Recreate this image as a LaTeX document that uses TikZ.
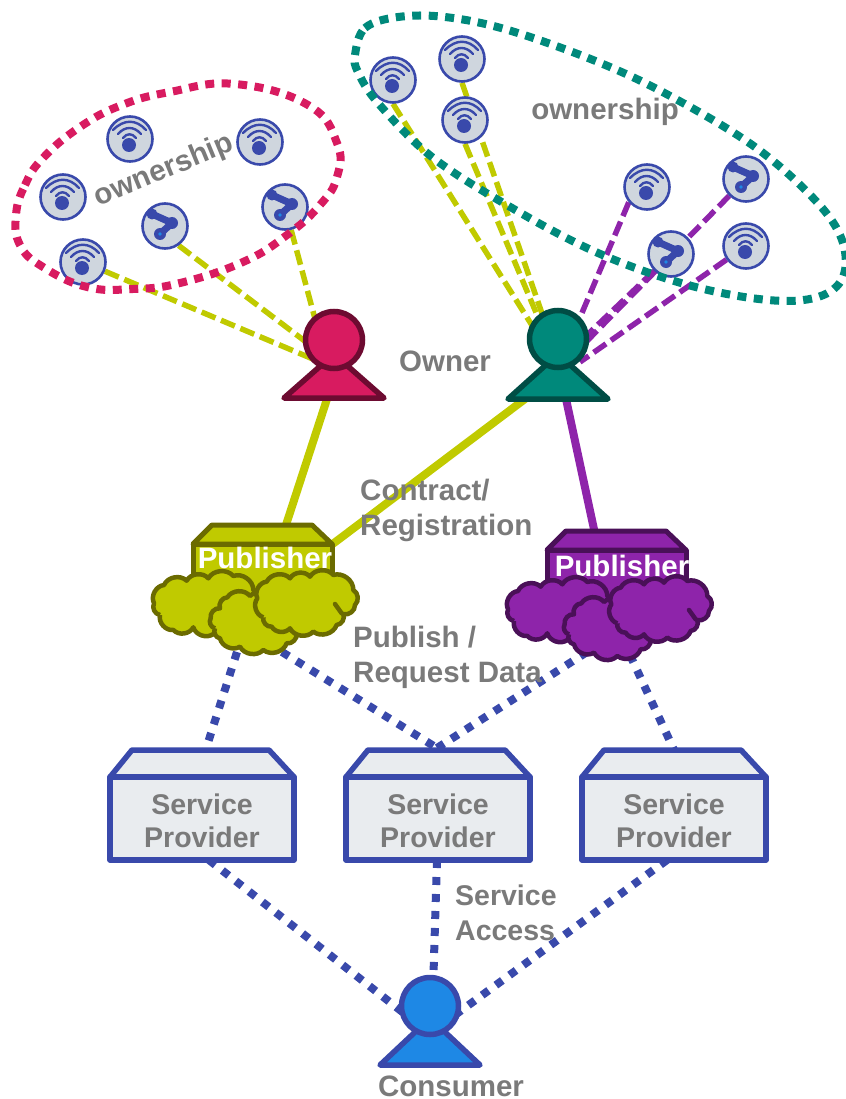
\documentclass[tikz,border=0pt]{standalone}
\usepackage{fontspec}
\setmainfont{Liberation Sans}
\definecolor{inkblue}{HTML}{3949AB}
\definecolor{devfill}{HTML}{CFD6DE}
\definecolor{boxfill}{HTML}{E9ECEF}
\definecolor{cyandot}{HTML}{1E88E5}
\definecolor{pinkc}{HTML}{D81B60}
\definecolor{pinkd}{HTML}{6D0B31}
\definecolor{tealc}{HTML}{00897B}
\definecolor{teald}{HTML}{004D45}
\definecolor{olivec}{HTML}{C0CA00}
\definecolor{olived}{HTML}{6B6B00}
\definecolor{purpc}{HTML}{8E24AA}
\definecolor{purpd}{HTML}{4A1058}
\definecolor{lblgray}{HTML}{7A7A7A}
\tikzset{
  devnode/.style={circle,draw=inkblue,fill=devfill,line width=2.6pt,minimum size=45pt,inner sep=0pt},
  lbl/.style={font=\fontsize{29.5}{35}\selectfont\bfseries,text=lblgray,inner sep=0pt,align=left},
  smalllbl/.style={font=\fontsize{28.5}{34}\selectfont\bfseries,text=lblgray,inner sep=0pt,align=left},
  publbl/.style={font=\fontsize{29.5}{35}\selectfont\bfseries,text=white,inner sep=0pt},
  splbl/.style={font=\fontsize{28.5}{34.5}\selectfont\bfseries,text=lblgray,align=center,inner sep=0pt},
  spbox/.style={draw=inkblue,fill=boxfill,line width=5.5pt,line join=round,minimum width=184pt,minimum height=83pt,inner sep=0pt,outer sep=0pt},
  sproof/.style={draw=inkblue,fill=boxfill,line width=5.5pt,line join=round},
  head/.style={circle,line width=5.5pt,minimum size=57pt,inner sep=0pt},
  dashline/.style={line width=5.5pt,dash pattern=on 15pt off 6pt},
  ownring/.style={line width=8pt,dash pattern=on 9pt off 7.5pt},
  solidline/.style={line width=8pt},
  dotline/.style={draw=inkblue,line width=8pt,dash pattern=on 8pt off 9pt},
  cloudbit/.style={line width=4.5pt,line join=round,every to/.style={bend left=55}},
  pubpart/.style={line width=5pt,line join=round},
}
\pgfdeclarelayer{behind}
\pgfsetlayers{behind,main}
% device glyphs
\newcommand{\wifidev}[3]{%
  \node[devnode] (#1) at (#2,#3) {};
  \begin{scope}[shift={(#2,#3)},draw=inkblue,line width=2.4pt,line cap=round]
    \fill[inkblue] (-1,6) circle (7);
    \draw (-17,-9) .. controls (-6,-20) and (6,-20) .. (16,-9);
    \draw (-12,-5) .. controls (-5,-13) and (4,-13) .. (11,-5);
    \draw (-7,-1) .. controls (-3,-6) and (2,-6) .. (6,-1);
  \end{scope}}
\newcommand{\linkdev}[3]{%
  \node[devnode] (#1) at (#2,#3) {};
  \begin{scope}[shift={(#2,#3)}]
    \draw[inkblue,line width=7pt,line cap=round,line join=round] (-13,-12) -- (7,-3) -- (-5,8);
    \fill[inkblue] (-13,-12) circle (5.5) (7,-3) circle (6) (-5,8) circle (6);
    \fill[cyandot] (-5,8) circle (1.8);
  \end{scope}}
% person: name, head x, head y, apex y, base half width, base y, fill, line
\newcommand{\person}[8]{%
  \draw[fill=#7,draw=#8,line width=5.5pt,line join=round] (#2-#5,#6) -- (#2,#4) -- (#2+#5,#6) -- cycle;
  \node[head,fill=#7,draw=#8] (#1) at (#2,#3) {};}
% publisher: name, dx, dy, fill, line, label x, label y
\newcommand{\publisher}[7]{%
  \begin{scope}[shift={(#2,#3)}]
    \draw[pubpart,fill=#4,draw=#5] (193,544) rectangle (332,600);
    \draw[pubpart,fill=#4,draw=#5] (193,544) -- (212,525) -- (312,525) -- (332,544) -- cycle;
  \end{scope}
  \node[publbl] (#1) at (#6,#7) {Publisher};
  \begin{scope}[shift={(#2,#3)}]
    \begin{scope}[shift={(140,510)},x=0.3333pt,y=-0.3333pt]
      \draw[cloudbit,fill=#4,draw=#5] (60,315) to (42,280) to (72,225) to (140,212) to (205,205) to (280,198) to (340,240) to (345,310) to (220,372) to (160,352) to (100,360) to (60,315);
      \draw[cloudbit,fill=#4,draw=#5] (225,355) to (212,325) to (240,295) to (262,262) to (330,258) to (400,270) to (470,370) to (440,400) to (370,420) to (300,410) to (240,385) to (225,355);
      \draw[cloudbit,fill=#4,draw=#5] (370,322) to (352,265) to (380,215) to (450,205) to (510,200) to (580,195) to (640,240) to (645,285) to (610,312) to (590,345) to (520,365) to (450,355) to (395,350) to (370,322);
      \draw[line width=4.5pt,draw=#5,line cap=round] (585,282) -- (605,310);
    \end{scope}
  \end{scope}}
% service provider: name, left x
\newcommand{\provider}[2]{%
  \draw[sproof] (#2,777) -- (#2+22,750) -- (#2+159,750) -- (#2+184,777) -- cycle;
  \node[spbox,anchor=north west] (#1) at (#2,777) {};
  \node[splbl,yshift=-2.5pt] (#1text) at (#1.center) {Service\\[-1pt]Provider};}
\begin{document}
\begin{tikzpicture}[x=1pt,y=-1pt]
\useasboundingbox (0,0) rectangle (845,1099);
% free connector ends
\coordinate (tA1) at (320,362);
\coordinate (tA2) at (310,345);
\coordinate (tA3) at (318,330);
\coordinate (tB1) at (533,327);
\coordinate (tB2) at (540,322);
\coordinate (tB3) at (546,325);
\coordinate (tB4) at (576,327);
\coordinate (tB5) at (585,343);
\coordinate (tB6) at (585,337);
\coordinate (tB7) at (580,362);
\coordinate (armA) at (327,399);
\coordinate (armB) at (525,399);
\coordinate (armC) at (566,399);
\coordinate (pubAtop) at (285,528);
\coordinate (pubAside) at (330,546);
\coordinate (pubBtop) at (595,534);
\coordinate (cloudA1) at (237,652);
\coordinate (cloudA2) at (282,652);
\coordinate (cloudB1) at (587,652);
\coordinate (cloudB2) at (630,655);
\coordinate (spA) at (205,752);
\coordinate (spB) at (437,748);
\coordinate (spC) at (675,752);
\coordinate (consL) at (405,1014);
\coordinate (consM) at (433,990);
\coordinate (consR) at (455,1015);
% devices
\wifidev{dA1}{130}{139}
\wifidev{dA2}{260}{142}
\wifidev{dA3}{63}{197}
\wifidev{dA4}{83}{262}
\linkdev{dA5}{165}{226}
\linkdev{dA6}{285}{207}
\wifidev{dB1}{393}{80}
\wifidev{dB2}{462}{59}
\wifidev{dB3}{465}{120}
\wifidev{dB4}{647}{187}
\linkdev{dB5}{746}{179}
\linkdev{dB6}{671}{254}
\wifidev{dB7}{746}{246}
% ownership rings
\draw[pinkc,ownring] plot[smooth cycle,tension=0.75] coordinates {(16,215) (25,185) (43,158) (80,127) (122,105) (170,92) (235,84) (308,105) (337,143) (337,177) (320,205) (287,235) (243,262) (180,283) (133,289) (87,287) (43,267) (20,245)};
\draw[tealc,ownring] plot[smooth cycle,tension=0.6] coordinates {(355,55) (365,28) (398,17) (445,17) (508,30) (598,62) (672,97) (755,147) (815,200) (842,240) (843,277) (818,297) (768,300) (688,285) (598,253) (512,208) (432,157) (378,103) (358,72)};
\node[lbl,rotate=22.4] (ownLabelA) at (164,171) {ownership};
\node[lbl] (ownLabelB) at (605,112) {ownership};
% people
\person{ownerA}{334}{340}{354}{50}{398}{pinkc}{pinkd}
\person{ownerB}{558}{339}{354}{50}{399}{tealc}{teald}
\person{consumer}{430}{1006}{1018}{50}{1065}{cyandot}{inkblue}
% publishers and providers
\publisher{pubA}{0}{0}{olivec}{olived}{265}{558}
\publisher{pubB}{354}{6}{purpc}{purpd}{622}{566}
\provider{sp1}{110}
\provider{sp2}{346}
\provider{sp3}{582}
% labels
\node[lbl] (ownerLabel) at (445,361) {Owner};
\node[lbl,anchor=base west] (contractA) at (360,500) {Contract/};
\node[lbl,anchor=base west] (contractB) at (360,535) {Registration};
\node[lbl,anchor=base west] (publishA) at (353,647) {Publish /};
\node[lbl,anchor=base west] (publishB) at (353,682) {Request Data};
\node[smalllbl,anchor=base west] (accessA) at (455,905) {Service};
\node[smalllbl,anchor=base west] (accessB) at (455,940) {Access};
\node[lbl,anchor=base] (consumerLabel) at (451,1096) {Consumer};
% connectors behind everything
\begin{pgfonlayer}{behind}
  \draw[olivec,dashline] (dA4) -- (tA1);
  \draw[olivec,dashline] (dA5.-55) -- (tA2);
  \draw[olivec,dashline] (dA6) -- (tA3);
  \draw[olivec,dashline] (dB1.south) -- (tB1);
  \draw[olivec,dashline] (dB3.south) -- (tB2);
  \draw[olivec,dashline] (dB2.south) -- (tB3);
  \draw[purpc,dashline] (dB4.-140) -- (tB4);
  \draw[purpc,dashline] (dB5.225) -- (tB5);
  \draw[purpc,dashline] (dB6.225) -- (tB6);
  \draw[purpc,dashline] (dB7.215) -- (tB7);
  \draw[olivec,solidline] (armA) -- (pubAtop);
  \draw[olivec,solidline] (armB) -- (pubAside);
  \draw[purpc,solidline] (armC) -- (pubBtop);
  \draw[dotline] (cloudA1) -- (spA);
  \draw[dotline] (cloudA2) -- (spB);
  \draw[dotline] (cloudB1) -- (spB);
  \draw[dotline] (cloudB2) -- (spC);
  \draw[dotline] ([xshift=7pt]sp1.south) -- (consL);
  \draw[dotline] ([xshift=-1pt]sp2.south) -- (consM);
  \draw[dotline] ([xshift=-7pt]sp3.south) -- (consR);
\end{pgfonlayer}
\end{tikzpicture}
\end{document}
